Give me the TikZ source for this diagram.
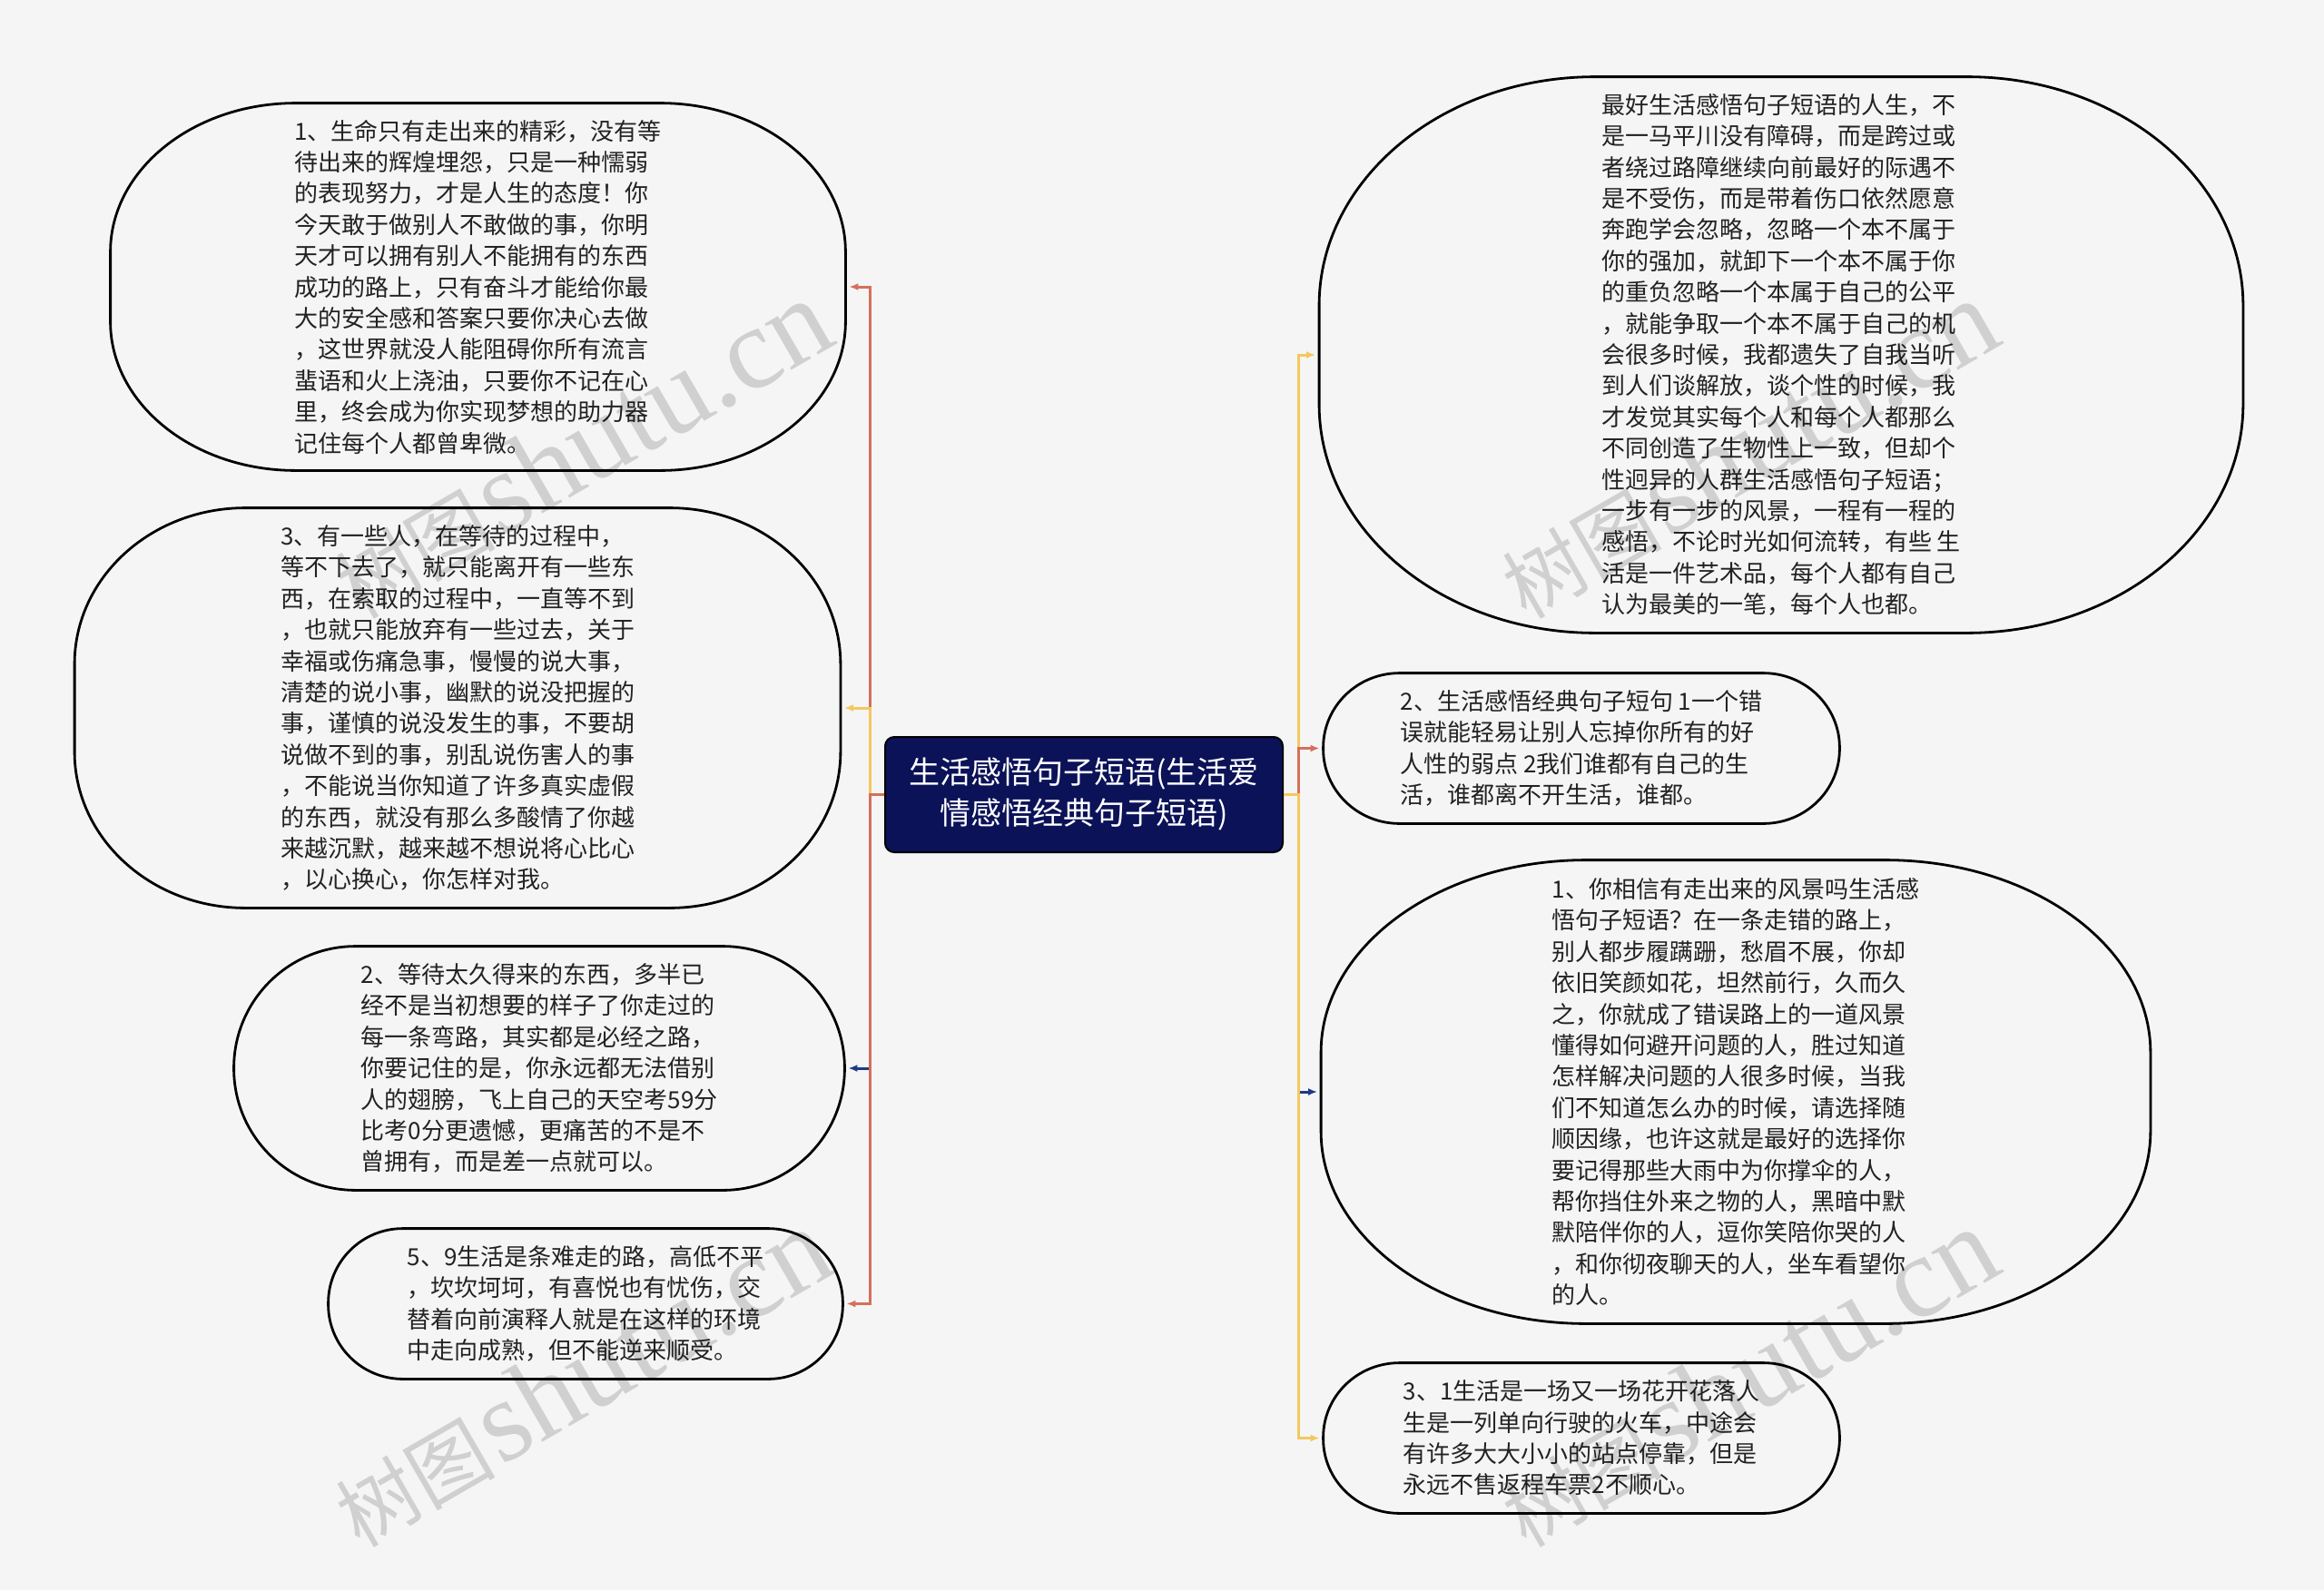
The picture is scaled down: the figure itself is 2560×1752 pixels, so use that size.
\documentclass[tikz,border=0pt]{standalone}
\usepackage{fontspec}
\usepackage{tikz}
\usetikzlibrary{positioning,arrows.meta,calc}
\setmainfont{Noto Sans CJK SC}
\newfontfamily\wmfont{Liberation Serif}
\definecolor{MapBg}{HTML}{F5F5F5}
\definecolor{MapRoot}{HTML}{0B1258}
\definecolor{MapRed}{HTML}{D4705A}
\definecolor{MapYellow}{HTML}{F3C85E}
\definecolor{MapBlue}{HTML}{1E3A87}
\definecolor{MapText}{HTML}{222222}

% 椭圆角外框：节点名, 横向圆角, 纵向圆角
\newcommand{\leafframe}[3]{%
  \draw[leafline] ([xshift=#2]#1.north west) -- ([xshift=-#2]#1.north east)
    arc[start angle=90, end angle=0, x radius=#2, y radius=#3]
    -- ([yshift=#3]#1.south east)
    arc[start angle=0, end angle=-90, x radius=#2, y radius=#3]
    -- ([xshift=#2]#1.south west)
    arc[start angle=270, end angle=180, x radius=#2, y radius=#3]
    -- ([yshift=-#3]#1.north west)
    arc[start angle=180, end angle=90, x radius=#2, y radius=#3]
    -- cycle;}

\begin{document}
\begin{tikzpicture}[
    x=0.5pt, y=-0.5pt,
    rootbox/.style={
      draw=black,
      fill=MapRoot,
      line width=1pt,
      rounded corners=5pt,
      text=white,
      minimum width=219pt,
      minimum height=63.5pt,
      align=center,
      font=\fontsize{17}{22.5}\selectfont
    },
    leafbox/.style={
      inner sep=0pt,
      text=MapText,
      align=left,
      font=\fontsize{13}{17.2}\selectfont
    },
    leafline/.style={
      draw=black,
      line width=1.4pt
    },
    maplink/.style={
      -{Latex[length=5pt,width=4pt]},
      line width=1.5pt,
      shorten >=2pt
    },
    linkred/.style={maplink, MapRed},
    linkyellow/.style={maplink, MapYellow},
    linkblue/.style={maplink, MapBlue},
    watermark/.style={
      rotate=30,
      text=black,
      text opacity=0.15,
      inner sep=0pt
    }
  ]

  \fill[MapBg] (0,0) rectangle (2560,1752);
  \useasboundingbox (0,0) rectangle (2560,1752);

  \node[rootbox] (root) at (1194,875.5) {生活感悟句子短语(生活爱\\情感悟经典句子短语)};

  % 左侧
  \node[leafbox, minimum width=404.5pt, minimum height=202pt] (l1) at (526.5,316) {1、生命只有走出来的精彩，没有等\\待出来的辉煌埋怨，只是一种懦弱\\的表现努力，才是人生的态度！你\\今天敢于做别人不敢做的事，你明\\天才可以拥有别人不能拥有的东西\\成功的路上，只有奋斗才能给你最\\大的安全感和答案只要你决心去做\\，这世界就没人能阻碍你所有流言\\蜚语和火上浇油，只要你不记在心\\里，终会成为你实现梦想的助力器\\记住每个人都曾卑微。};
  \node[leafbox, minimum width=421.5pt, minimum height=220pt] (l2) at (504,780) {3、有一些人，在等待的过程中，\\等不下去了，就只能离开有一些东\\西，在索取的过程中，一直等不到\\，也就只能放弃有一些过去，关于\\幸福或伤痛急事，慢慢的说大事，\\清楚的说小事，幽默的说没把握的\\事，谨慎的说没发生的事，不要胡\\说做不到的事，别乱说伤害人的事\\，不能说当你知道了许多真实虚假\\的东西，就没有那么多酸情了你越\\来越沉默，越来越不想说将心比心\\，以心换心，你怎样对我。};
  \node[leafbox, minimum width=336pt, minimum height=134pt] (l3) at (594,1177) {2、等待太久得来的东西，多半已\\经不是当初想要的样子了你走过的\\每一条弯路，其实都是必经之路，\\你要记住的是，你永远都无法借别\\人的翅膀，飞上自己的天空考59分\\比考0分更遗憾，更痛苦的不是不\\曾拥有，而是差一点就可以。};
  \node[leafbox, minimum width=283pt, minimum height=82.5pt] (l4) at (645,1436.5) {5、9生活是条难走的路，高低不平\\，坎坎坷坷，有喜悦也有忧伤，交\\替着向前演释人就是在这样的环境\\中走向成熟，但不能逆来顺受。};

  % 右侧
  \node[leafbox, minimum width=508.5pt, minimum height=306pt] (r1) at (1962,391) {最好生活感悟句子短语的人生，不\\是一马平川没有障碍，而是跨过或\\者绕过路障继续向前最好的际遇不\\是不受伤，而是带着伤口依然愿意\\奔跑学会忽略，忽略一个本不属于\\你的强加，就卸下一个本不属于你\\的重负忽略一个本属于自己的公平\\，就能争取一个本不属于自己的机\\会很多时候，我都遗失了自我当听\\到人们谈解放，谈个性的时候，我\\才发觉其实每个人和每个人都那么\\不同创造了生物性上一致，但却个\\性迥异的人群生活感悟句子短语；\\一步有一步的风景，一程有一程的\\感悟，不论时光如何流转，有些 生\\活是一件艺术品，每个人都有自己\\认为最美的一笔，每个人也都。};
  \node[leafbox, minimum width=284pt, minimum height=82.5pt] (r2) at (1742,824.5) {2、生活感悟经典句子短句 1一个错\\误就能轻易让别人忘掉你所有的好\\人性的弱点 2我们谁都有自己的生\\活，谁都离不开生活，谁都。};
  \node[leafbox, minimum width=456.5pt, minimum height=255pt] (r3) at (1912,1203) {1、你相信有走出来的风景吗生活感\\悟句子短语？在一条走错的路上，\\别人都步履蹒跚，愁眉不展，你却\\依旧笑颜如花，坦然前行，久而久\\之，你就成了错误路上的一道风景\\懂得如何避开问题的人，胜过知道\\怎样解决问题的人很多时候，当我\\们不知道怎么办的时候，请选择随\\顺因缘，也许这就是最好的选择你\\要记得那些大雨中为你撑伞的人，\\帮你挡住外来之物的人，黑暗中默\\默陪伴你的人，逗你笑陪你哭的人\\，和你彻夜聊天的人，坐车看望你\\的人。};
  \node[leafbox, minimum width=284pt, minimum height=82.5pt] (r4) at (1742,1584.5) {3、1生活是一场又一场花开花落人\\生是一列单向行驶的火车，中途会\\有许多大大小小的站点停靠，但是\\永远不售返程车票2不顺心。};

  % 外框
  \leafframe{l1}{102pt}{82pt}
  \leafframe{l2}{94pt}{86pt}
  \leafframe{l3}{67pt}{67pt}
  \leafframe{l4}{41pt}{41pt}
  \leafframe{r1}{152pt}{126pt}
  \leafframe{r2}{42pt}{41pt}
  \leafframe{r3}{146pt}{106pt}
  \leafframe{r4}{42pt}{41pt}

  % 左侧连线
  \draw[linkblue] (root.west) -- ++(-16,0) |- (l3.east);
  \draw[linkred] (root.west) -- ++(-16,0) |- (l1.east);
  \draw[linkyellow] (root.west) -- ++(-16,0) |- (l2.east);
  \draw[linkred] (root.west) -- ++(-16,0) |- (l4.east);

  % 右侧连线
  \draw[linkblue] (root.east) -- ++(16,0) |- (r3.west);
  \draw[linkyellow] (root.east) -- ++(16,0) |- (r1.west);
  \draw[linkred] (root.east) -- ++(16,0) |- (r2.west);
  \draw[linkyellow] (root.east) -- ++(16,0) |- (r4.west);

  % 水印
  \node[watermark] (wm1) at (640,495) {{\fontsize{44}{44}\selectfont 树图} {\wmfont\fontsize{64}{64}\selectfont shutu.cn}};
  \node[watermark] (wm2) at (640,1518) {{\fontsize{44}{44}\selectfont 树图} {\wmfont\fontsize{64}{64}\selectfont shutu.cn}};
  \node[watermark] (wm3) at (1925,495) {{\fontsize{44}{44}\selectfont 树图} {\wmfont\fontsize{64}{64}\selectfont shutu.cn}};
  \node[watermark] (wm4) at (1925,1518) {{\fontsize{44}{44}\selectfont 树图} {\wmfont\fontsize{64}{64}\selectfont shutu.cn}};

\end{tikzpicture}
\end{document}
